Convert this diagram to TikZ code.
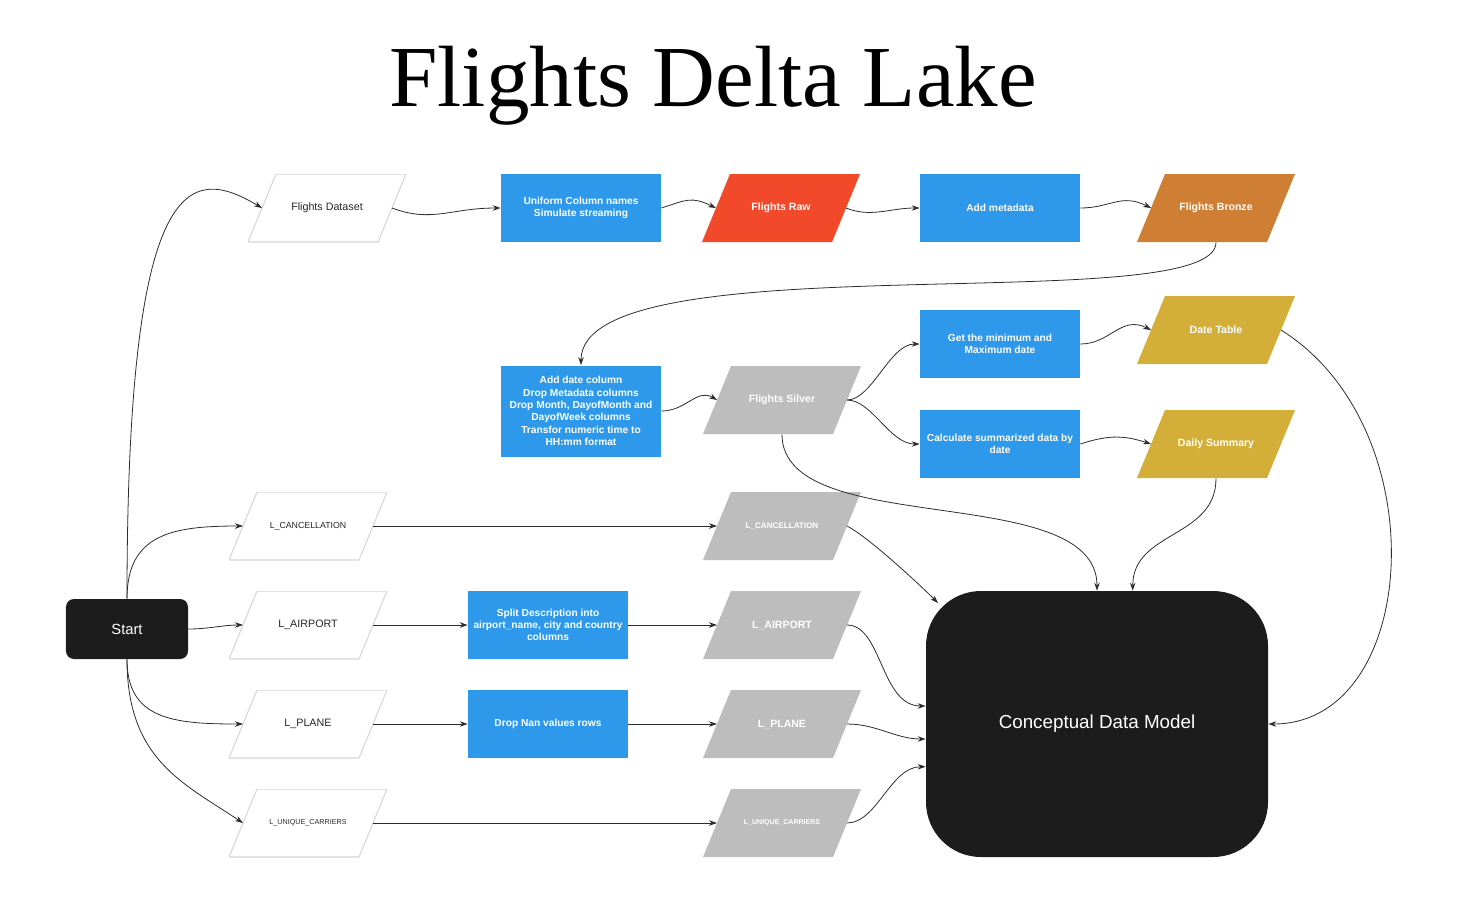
\documentclass[tikz,border=0pt]{standalone}
\usepackage{fontspec}
\setmainfont{Liberation Sans}
\newfontfamily\titlefont{Liberation Serif}
\usetikzlibrary{arrows.meta}

\definecolor{procblue}{HTML}{2E98EA}
\definecolor{rawred}{HTML}{F2492A}
\definecolor{bronze}{HTML}{CE7F33}
\definecolor{gold}{HTML}{D3AE38}
\definecolor{silver}{HTML}{BDBDBD}
\definecolor{nearblack}{HTML}{1C1C1C}
\definecolor{srcline}{HTML}{D6D6D6}
\definecolor{wire}{HTML}{2B2B2B}

\begin{document}
\begin{tikzpicture}[x=0.2mm,y=-0.2mm,
    proc/.style={rectangle,fill=procblue,text=white,align=center,inner sep=0pt,
        minimum width=32mm,minimum height=13.6mm,font=\fontsize{5.8}{7}\selectfont\bfseries},
    slantfill/.style={fill=white},
    data/.style={rectangle,minimum width=31.6mm,minimum height=13.6mm,inner sep=0pt,outer xsep=-2.8mm,align=center,
        path picture={\path[slantfill] ([xshift=5.6mm]path picture bounding box.north west)
            -- (path picture bounding box.north east) -- ([xshift=-5.6mm]path picture bounding box.south east)
            -- (path picture bounding box.south west) -- cycle;}},
    src/.style={data,slantfill/.style={fill=white,draw=srcline,line width=0.6pt},text=black!85,font=\fontsize{6.1}{7}\selectfont},
    tbl/.style={data,slantfill/.style={fill=#1},text=white,font=\fontsize{6}{7}\selectfont\bfseries},
    endbox/.style={rectangle,fill=nearblack,text=white,align=center},
    flow/.style={-{Stealth[length=1.6mm,width=1.1mm]},line width=0.45pt,wire}]

\useasboundingbox (0,0) rectangle (1474,920);

%titolo
\node[anchor=base] (title) at (713,106) {\titlefont\fontsize{49.5}{56}\selectfont Flights Delta Lake};

%riga bronze
\node[src] (dataset) at (327,208) {Flights Dataset};
\node[proc] (uniform) at (581,208) {Uniform Column names\\Simulate streaming};
\node[tbl=rawred] (raw) at (781,208) {Flights Raw};
\node[proc] (meta) at (1000,208) {Add metadata};
\node[tbl=bronze] (bronze) at (1216,208) {Flights Bronze};

%riga silver e gold
\node[proc,minimum height=18.2mm] (datecol) at (581,411) {Add date column\\Drop Metadata columns\\Drop Month, DayofMonth and\\DayofWeek columns\\Transfor numeric time to\\HH:mm format};
\node[tbl=silver] (silver) at (782,400) {Flights Silver};
\node[proc] (minmax) at (1000,344) {Get the minimum and\\Maximum date};
\node[tbl=gold] (datetab) at (1216,330) {Date Table};
\node[proc] (summ) at (1000,444) {Calculate summarized data by\\date};
\node[tbl=gold] (daily) at (1216,444) {Daily Summary};

%tabelle di lookup
\node[endbox,rounded corners=1.6mm,minimum width=24.4mm,minimum height=12mm,font=\fontsize{8.4}{10}\selectfont] (start) at (127,629) {Start};
\node[src,font=\fontsize{5}{6}\selectfont] (cancsrc) at (308,526) {L\_CANCELLATION};
\node[src] (airpsrc) at (308,625) {L\_AIRPORT};
\node[src] (planesrc) at (308,724) {L\_PLANE};
\node[src,font=\fontsize{4.1}{5}\selectfont] (carrsrc) at (308,823) {L\_UNIQUE\_CARRIERS};
\node[proc] (split) at (548,625) {Split Description into\\airport\_name, city and country\\columns};
\node[proc] (dropnan) at (548,724) {Drop Nan values rows};
\node[tbl=silver,font=\fontsize{4.6}{5}\selectfont\bfseries] (canc) at (782,526) {L\_CANCELLATION};
\node[tbl=silver] (airp) at (782,625) {L\_AIRPORT};
\node[tbl=silver] (plane) at (782,724) {L\_PLANE};
\node[tbl=silver,font=\fontsize{4}{5}\selectfont\bfseries] (carr) at (782,823) {L\_UNIQUE\_CARRIERS};

%modello finale
\node[endbox,rounded corners=11mm,minimum width=68.4mm,minimum height=53.2mm,font=\fontsize{10.7}{13}\selectfont] (cdm) at (1097,724) {Conceptual Data Model};
\coordinate (cdmcorner) at (938,603);

%frecce da Start
\draw[flow] (start.north) .. controls +(0,-430) and +(-72,-43) .. (dataset.west);
\draw[flow] (start.north) .. controls +(0,-65) and +(-70,0) .. (cancsrc.west);
\draw[flow] (start.east) .. controls +(20,0) and +(-20,0) .. (airpsrc.west);
\draw[flow] (start.south) .. controls +(0,60) and +(-70,0) .. (planesrc.west);
\draw[flow] (start.south) .. controls +(0,100) and +(-60,-40) .. (carrsrc.west);

%flusso bronze
\draw[flow] (dataset.east) .. controls +(40,15) and +(-50,0) .. (uniform.west);
\draw[flow] (uniform.east) .. controls +(25,-8) and +(-25,-12) .. (raw.west);
\draw[flow] (raw.east) .. controls +(25,10) and +(-30,0) .. (meta.west);
\draw[flow] (meta.east) .. controls +(30,0) and +(-30,-15) .. (bronze.west);
\draw[flow] (bronze.south) .. controls +(0,78) and +(0,-126) .. (datecol.north);

%flusso silver
\draw[flow] (datecol.east) .. controls +(25,0) and +(-20,-12) .. (silver.west);
\draw[flow] (silver.east) .. controls +(25,0) and +(-30,0) .. (minmax.west);
\draw[flow] (silver.east) .. controls +(25,0) and +(-30,0) .. (summ.west);
\draw[flow] (minmax.east) .. controls +(30,0) and +(-30,-15) .. (datetab.west);
\draw[flow] (summ.east) .. controls +(30,-10) and +(-25,-8) .. (daily.west);

%lookup
\draw[flow] (cancsrc.east) -- (canc.west);
\draw[flow] (airpsrc.east) -- (split.west);
\draw[flow] (split.east) -- (airp.west);
\draw[flow] (planesrc.east) -- (dropnan.west);
\draw[flow] (dropnan.east) -- (plane.west);
\draw[flow] (carrsrc.east) -- (carr.west);

%verso il modello
\draw[flow] (silver.south) .. controls +(0,106) and +(0,-111) .. (cdm.north);
\draw[flow] (daily.south) .. controls +(0,60) and +(0,-60) .. (cdm.75.7);
\draw[flow] (datetab.east) .. controls +(157,98) and +(152,0) .. (cdm.east);
\draw[flow] (canc.east) .. controls +(20,10) and +(-20,-20) .. (cdmcorner);
\draw[flow] (airp.east) .. controls +(35,0) and +(-45,0) .. (cdm.174.7);
\draw[flow] (plane.east) .. controls +(30,0) and +(-30,0) .. (cdm.185.3);
\draw[flow] (carr.east) .. controls +(30,0) and +(-35,0) .. (cdm.194.4);
\end{tikzpicture}
\end{document}
